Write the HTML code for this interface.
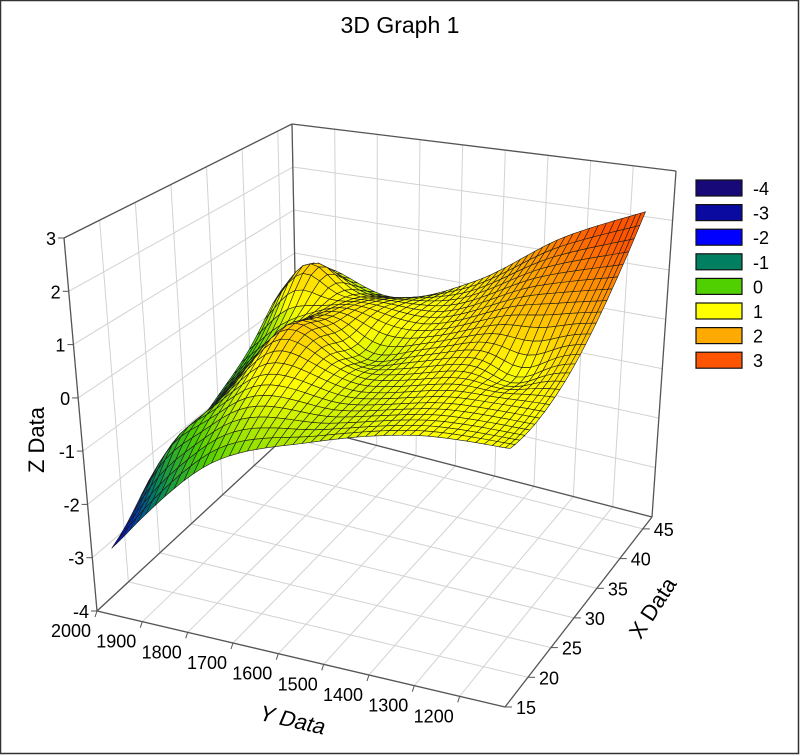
<!DOCTYPE html>
<html><head><meta charset="utf-8"><style>
html,body{margin:0;padding:0;background:#fff}
svg{display:block;font-family:"Liberation Sans",sans-serif}
</style></head><body>
<svg id="chart" width="800" height="755" viewBox="0 0 800 755">
<rect x="0.5" y="0.5" width="798" height="753" fill="#fff" stroke="#333" stroke-width="1.5"/>
<text x="400" y="33" font-size="23" text-anchor="middle" fill="#000">3D Graph 1</text>
<g id="walls"></g>
<g id="surface"></g>
<g id="axes"></g>
<g id="legend"></g>
</svg>
<script>
// ---- data ----
const yStations = [1955, 1760, 1560, 1360, 1165];      // Y at control columns
const frontX = [15, 16.7, 18.5, 20.2, 21.0];           // X of front edge at each station
const frontZ = [-2.74, -1.0, -0.4, -0.1, -0.1];
const midZ   = [-1.6, 0.2, -0.15, 0.2, 0.3];
const backZ  = [-0.2, -0.6, 0.1, 1.3, 2.1];
const backX = 47;
const bumpY = [1890, 1910, 1760, 1640, 1290];
const bumpX = [42, 22, 30, 34, 34];
const bumpZ = [0.9, 0.4, 0.3, -0.35, -0.4];
const zTicks = [-4,-3,-2,-1,0,1,2,3];
const yTicks = [2000,1900,1800,1700,1600,1500,1400,1300,1200];
const xTicks = [15,20,25,30,35,40,45];
const legendLevels = [-4,-3,-2,-1,0,1,2,3];
const legendColors = ['#170a78','#0a0aa0','#0000ff','#008060','#50d000','#ffff00','#ffaa00','#ff5500'];

// ---- projection ----
const Y0=2000, Y1=1100, X0=15, X1=47, Z0=-4, Z1=3;
const f00=[97,611], f10=[505,707], f01=[298,425], f11=[652,517];
const t00=[64,238], t10=[517,307], t01=[292,124], t11=[676,171];
function bil(a,b,c,d,u,v){return [a[0]*(1-u)*(1-v)+b[0]*u*(1-v)+c[0]*(1-u)*v+d[0]*u*v, a[1]*(1-u)*(1-v)+b[1]*u*(1-v)+c[1]*(1-u)*v+d[1]*u*v];}
function P(Y,X,Z){const u=(Y0-Y)/(Y0-Y1), v=(X-X0)/(X1-X0), w=(Z-Z0)/(Z1-Z0);
 const f=bil(f00,f10,f01,f11,u,v), t=bil(t00,t10,t01,t11,u,v);
 return [f[0]+(t[0]-f[0])*w, f[1]+(t[1]-f[1])*w];}
const NS='http://www.w3.org/2000/svg';
function mk(tag,attrs,parent){const e=document.createElementNS(NS,tag);for(const k in attrs)e.setAttribute(k,attrs[k]);parent.appendChild(e);return e;}
function line(a,b,stroke,sw,parent,name){const e=mk('line',{x1:a[0].toFixed(1),y1:a[1].toFixed(1),x2:b[0].toFixed(1),y2:b[1].toFixed(1),stroke:stroke,'stroke-width':sw},parent);
 
 
 return e;}

// ---- walls & grid ----
const walls=document.getElementById('walls');
const gc='#d2d2d2';
zTicks.forEach(z=>{ line(P(Y0,X0,z),P(Y0,X1,z),gc,1,walls,'left-wall-gridline'); line(P(Y0,X1,z),P(Y1,X1,z),gc,1,walls,'back-wall-gridline'); });
xTicks.forEach(x=>{ line(P(Y0,x,Z0),P(Y0,x,Z1),gc,1,walls,'left-wall-gridline'); line(P(Y0,x,Z0),P(Y1,x,Z0),gc,1,walls,'floor-gridline'); });
yTicks.forEach(y=>{ line(P(y,X1,Z0),P(y,X1,Z1),gc,1,walls,'back-wall-gridline'); line(P(y,X0,Z0),P(y,X1,Z0),gc,1,walls,'floor-gridline'); });
const ec='#555';
[[P(Y0,X0,Z0),P(Y0,X0,Z1)],[P(Y0,X1,Z0),P(Y0,X1,Z1)],[P(Y1,X1,Z0),P(Y1,X1,Z1)],
 [P(Y0,X0,Z1),P(Y0,X1,Z1)],[P(Y0,X1,Z1),P(Y1,X1,Z1)],
 [P(Y0,X0,Z0),P(Y1,X0,Z0)],[P(Y1,X0,Z0),P(Y1,X1,Z0)],[P(Y0,X1,Z0),P(Y1,X1,Z0)],[P(Y0,X0,Z0),P(Y0,X1,Z0)]
].forEach(s=>line(s[0],s[1],ec,1.3,walls,'box-edge'));

// ---- surface ----
function cr(arr,t){
 const n=arr.length; const i=Math.max(0,Math.min(n-2,Math.floor(t))); const f=t-i;
 const p0=arr[Math.max(0,i-1)],p1=arr[i],p2=arr[i+1],p3=arr[Math.min(n-1,i+2)];
 return 0.5*((2*p1)+(-p0+p2)*f+(2*p0-5*p1+4*p2-p3)*f*f+(-p0+3*p1-3*p2+p3)*f*f*f);}
function surf(a,s){
 const t=a*(yStations.length-1);
 const Y=cr(yStations,t), xf=cr(frontX,t), X=xf+(backX-xf)*s;
 const z0=cr(frontZ,t), zm=cr(midZ,t), z1=cr(backZ,t);
 let Z=z0*(1-s)*(1-2*s)+zm*4*s*(1-s)+z1*s*(2*s-1);
 for(let k=0;k<bumpZ.length;k++){const dy=(Y-bumpY[k])/70, dx=(X-bumpX[k])/3.5; Z+=bumpZ[k]*Math.exp(-(dx*dx+dy*dy));}
 return [Y,X,Z];}
function hex(c){return [parseInt(c.substr(1,2),16),parseInt(c.substr(3,2),16),parseInt(c.substr(5,2),16)];}
function cmap(c){c=Math.max(-4,Math.min(3,c));const i=Math.min(6,Math.floor(c+4)),f=c+4-i;const a=hex(legendColors[i]),b=hex(legendColors[i+1]);
 return 'rgb('+a.map((x,k)=>Math.round(x+(b[k]-x)*f)).join(',')+')';}
const NA=46, NSD=26, pts=[];
for(let i=0;i<=NA;i++){pts.push([]);for(let j=0;j<=NSD;j++){pts[i].push(surf(i/NA,j/NSD));}}
const quads=[];
for(let i=0;i<NA;i++)for(let j=0;j<NSD;j++){
 const q=[pts[i][j],pts[i+1][j],pts[i+1][j+1],pts[i][j+1]];
 const Ym=(q[0][0]+q[2][0])/2, Xm=(q[0][1]+q[2][1])/2, Zm=(q[0][2]+q[1][2]+q[2][2]+q[3][2])/4;
 const u=(Y0-Ym)/(Y0-Y1), v=(Xm-X0)/(X1-X0);
 quads.push({q:q,z:Zm,d:v+(1-u)*0.55});}
quads.sort((a,b)=>b.d-a.d);
const sg=document.getElementById('surface');
quads.forEach(o=>{const p=o.q.map(c=>P(c[0],c[1],c[2]));
 const e=mk('polygon',{points:p.map(c=>c[0].toFixed(1)+','+c[1].toFixed(1)).join(' '),fill:cmap(o.z*1.15+1.1),stroke:'#1a1a1a','stroke-width':0.6,'stroke-linejoin':'round'},sg);
 
 });

// ---- axes ----
const ax=document.getElementById('axes');
function txt(x,y,s,anchor,size,parent,name,extra){const e=mk('text',Object.assign({x:x.toFixed(1),y:y.toFixed(1),'font-size':size,'text-anchor':anchor,fill:'#000'},extra||{}),parent);e.textContent=s;
 
 
 return e;}
zTicks.forEach(z=>{const p=P(Y0,X0,z); line(p,[p[0]-6,p[1]],ec,1,ax,'z-tick'); txt(p[0]-8,p[1]+7,String(z),'end',18,ax,'z-tick-label');});
yTicks.forEach(y=>{const p=P(y,X0,Z0); line(p,[p[0]-2,p[1]+6],ec,1,ax,'y-tick'); txt(p[0]-26,p[1]+26,String(y),'middle',18,ax,'y-tick-label');});
xTicks.forEach(x=>{const p=P(Y1,x,Z0); line(p,[p[0]+7,p[1]],ec,1,ax,'x-tick'); txt(p[0]+11,p[1]+7,String(x),'start',18,ax,'x-tick-label');});
txt(0,0,'Z Data','middle',22,ax,'z-axis-title',{transform:'translate(44,440) rotate(-90)'});
txt(0,0,'Y Data','middle',22,ax,'y-axis-title',{transform:'translate(290,727) rotate(13) skewX(-10)'});
txt(0,0,'X Data','middle',22,ax,'x-axis-title',{transform:'translate(659,612) rotate(-57)'});

// ---- legend ----
const lg=document.getElementById('legend');
legendLevels.forEach((lv,k)=>{const y=180+k*24.6;
 const r=mk('rect',{x:696,y:y.toFixed(1),width:46,height:16,fill:legendColors[k],stroke:'#111','stroke-width':1.2},lg);
 
 
 txt(753,y+15,String(lv),'start',18,lg,'legend-label');});
</script>
</body></html>
